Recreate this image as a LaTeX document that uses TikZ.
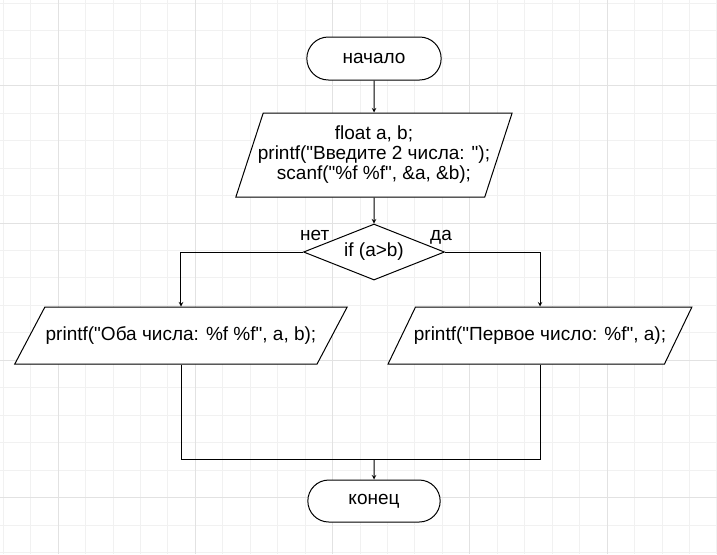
\documentclass[tikz,border=0pt]{standalone}
\usepackage{fontspec}
\setmainfont{Liberation Sans}[Ligatures=TeXOff]
\usetikzlibrary{positioning,shapes,arrows}
\definecolor{gridlight}{HTML}{F1F1F1}
\definecolor{griddark}{HTML}{E2E2E2}

\begin{document}
\begin{tikzpicture}[
    x=1pt, y=1pt,
    >=stealth,
    node distance=26pt,
    every node/.style={font=\fontsize{19}{20}\selectfont},
    flow/.style={
        ->,
        line width=1pt,},
    plain/.style={
        line width=1pt,},
    term/.style={rounded rectangle,draw,line width=1pt,fill=white,
        minimum width=141pt,minimum height=43pt},
    io/.style={trapezium,trapezium left angle=#1,trapezium right angle=180-#1,
        trapezium stretches=true,draw,line width=1pt,fill=white,
        inner xsep=-4pt,align=center},
    oneline/.style={text height=14pt,text depth=4pt,inner ysep=19.5pt},
    choice/.style={diamond,draw,line width=1pt,fill=white,inner sep=0pt,
        aspect=2.5,minimum width=141pt,minimum height=56pt},
    lbl/.style={inner sep=0pt,anchor=base west}
]
\useasboundingbox (0,0) rectangle (717,-554);

% background grid
\draw[gridlight,line width=0.8pt,xshift=3.1pt,yshift=-3.35pt,step=27.45pt]
    (-3.1,3.35) grid (713.9,-550.65);
\draw[griddark,line width=0.8pt,xshift=58pt,yshift=-85.7pt,step=137.25pt]
    (-58,85.7) grid (659,-468.3);

\node[term] (start) at (374,-58.5) {начало};
\node[io=72,inner xsep=-6pt,inner ysep=13pt,minimum width=277pt,minimum height=84pt,
    below=32pt of start] (input)
    {float a, b;\\printf("Введите 2 числа: ");\\scanf("\%f \%f", \&a, \&b);};
\node[choice,below=of input] (cmp) {if (a>b)};
\node[io=63,oneline,minimum width=333pt,minimum height=57pt,below=of cmp,xshift=-193pt] (no)
    {printf("Оба числа: \%f \%f", a, b);};
\node[io=64.7,oneline,minimum width=305pt,minimum height=57pt,below=of cmp,xshift=166pt] (yes)
    {printf("Первое число: \%f", a);};
\node[term,minimum width=139pt,minimum height=42pt,below=199pt of cmp] (fin) {конец};
\coordinate[above=20pt of fin] (join);

\node[lbl] (nolbl) at ([xshift=-3pt,yshift=12pt]cmp.west) {нет};
\node[lbl] (yeslbl) at ([xshift=-15pt,yshift=12pt]cmp.east) {да};

\draw[flow] (start) -- (input);
\draw[flow] (input) -- (cmp);
\draw[flow] (cmp.west) -| (no);
\draw[flow] (cmp.east) -| (yes);
\draw[plain] (no) |- (join) -| (yes);
\draw[flow] (join) -- (fin);

\end{tikzpicture}
\end{document}
